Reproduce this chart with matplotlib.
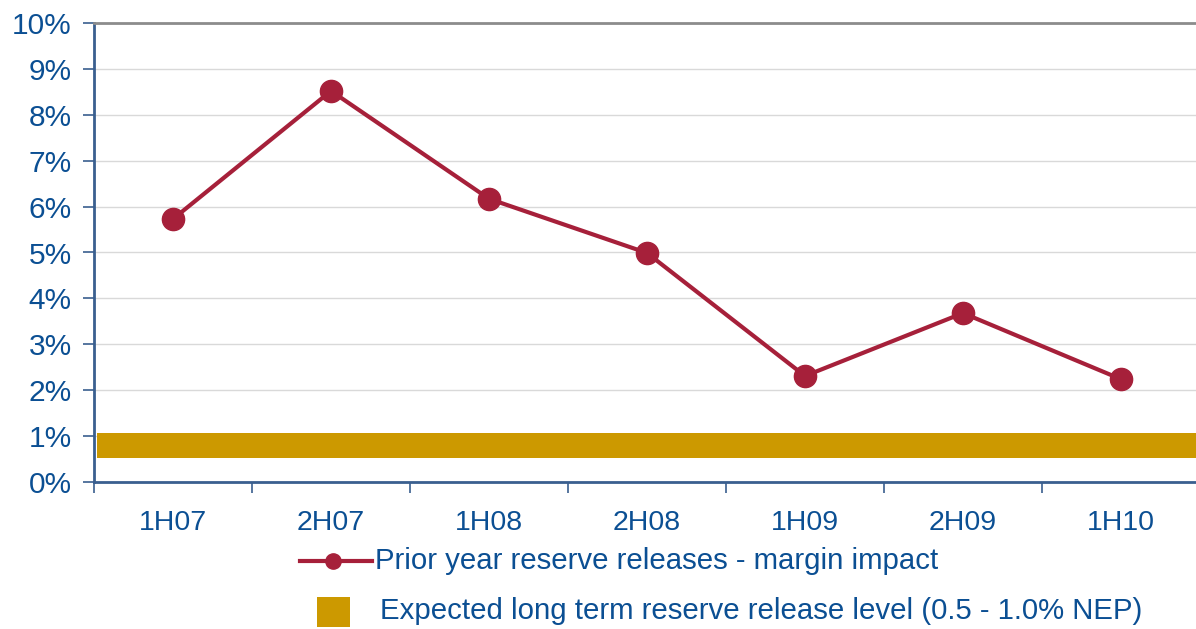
import matplotlib
matplotlib.use("Agg")
import matplotlib.pyplot as plt
from matplotlib.lines import Line2D
from matplotlib.patches import Rectangle
import numpy as np

# data
periods = ["1H07", "2H07", "1H08", "2H08", "1H09", "2H09", "1H10"]
releases = [5.73, 8.52, 6.17, 4.99, 2.31, 3.68, 2.24]
band_low, band_high = 0.52, 1.07

line_col = "#A6203A"
band_col = "#CC9900"
text_col = "#0B4F93"
spine_col = "#3A5F8F"

plt.rcParams["font.family"] = ["Liberation Sans", "DejaVu Sans"]

fig = plt.figure(figsize=(11.96, 6.29), dpi=100)
ax = fig.add_axes([94 / 1196, 147 / 629, 1106 / 1196, 459 / 629])

x = np.arange(len(periods))
ax.axhspan(band_low, band_high, xmin=0.003, xmax=1, color=band_col, lw=0, zorder=2)
ax.plot(x, releases, color=line_col, lw=3, marker="o", ms=16, zorder=3)

ax.set_xlim(-0.5, len(periods) - 0.5)
ax.set_ylim(0, 10)
ax.set_yticks(range(0, 11))
ax.set_yticklabels([f"{v}%" for v in range(0, 11)])
ax.yaxis.grid(True, color="#D9D9D9", lw=1)
ax.set_axisbelow(True)

ax.set_xticks(x)
ax.set_xticklabels(periods)
ax.set_xticks(np.arange(-0.5, len(periods)), minor=True)
ax.tick_params(axis="x", which="major", length=0, pad=20, labelsize=20.5, labelcolor=text_col)
ax.tick_params(axis="x", which="minor", length=8, color=spine_col, width=1.2)
ax.tick_params(axis="y", length=8, color=spine_col, width=1.2, labelsize=21.5,
               labelcolor=text_col, pad=8)

for s in ["left", "bottom"]:
    ax.spines[s].set_color(spine_col)
    ax.spines[s].set_linewidth(2)
ax.spines["top"].set_color("#8C8C8C")
ax.spines["top"].set_linewidth(2)
ax.spines["right"].set_visible(False)

# legend drawn by hand to match the layout
fig.add_artist(Line2D([300 / 1196, 372 / 1196], [1 - 561 / 629] * 2, color=line_col,
                      lw=3, transform=fig.transFigure))
fig.add_artist(Line2D([333 / 1196], [1 - 561 / 629], color=line_col, marker="o", ms=11,
                      lw=0, transform=fig.transFigure))
fig.text(375 / 1196, 1 - 561 / 629, "Prior year reserve releases - margin impact",
         color=text_col, fontsize=21.2, va="center", ha="left")
fig.add_artist(Rectangle((317 / 1196, 1 - 627 / 629), 33 / 1196, 30 / 629,
                         color=band_col, lw=0, transform=fig.transFigure))
fig.text(380 / 1196, 1 - 611 / 629, "Expected long term reserve release level (0.5 - 1.0% NEP)",
         color=text_col, fontsize=21.2, va="center", ha="left")

fig.savefig("out.png", dpi=100)
